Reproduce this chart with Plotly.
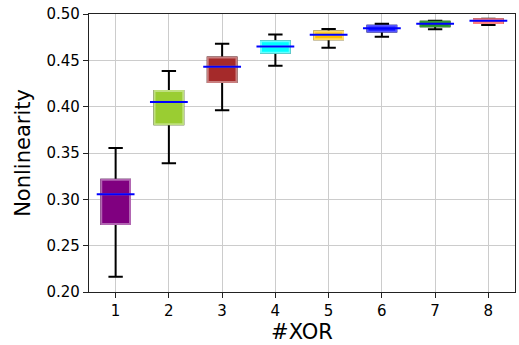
import plotly.graph_objects as go

categories = [1, 2, 3, 4, 5, 6, 7, 8]
upper = [0.3555, 0.4385, 0.4680, 0.4780, 0.4838, 0.4896, 0.4928, 0.4950]
q3 = [0.3210, 0.4170, 0.4530, 0.4705, 0.4810, 0.4874, 0.4917, 0.4943]
median = [0.3054, 0.4050, 0.4432, 0.4650, 0.4777, 0.4845, 0.4896, 0.4928]
q1 = [0.2735, 0.3810, 0.4266, 0.4583, 0.4727, 0.4810, 0.4867, 0.4903]
lower = [0.2165, 0.3390, 0.3960, 0.4442, 0.4636, 0.4755, 0.4835, 0.4881]
colors = ["#800080", "#9ACD32", "#A52A2A", "#00FFFF", "#FFC000", "#0000FF", "#008000", "#FF0000"]
edges = ["#B266B2", "#BFE07F", "#C97F7F", "#66FFFF", "#FFD966", "#5555FF", "#339933", "#FF8080"]

fig = go.Figure()
BW = 0.54
for i, c in enumerate(categories):
    # whiskers + caps (black)
    fig.add_trace(go.Box(
        x=[c], q1=[q1[i]], median=[median[i]], q3=[q3[i]],
        lowerfence=[lower[i]], upperfence=[upper[i]],
        width=BW, whiskerwidth=0.5, fillcolor=colors[i],
        line=dict(color="black", width=2), showlegend=False,
        hoverinfo="skip",
    ))
    # coloured box body
    fig.add_trace(go.Box(
        x=[c], q1=[q1[i]], median=[median[i]], q3=[q3[i]],
        lowerfence=[q1[i]], upperfence=[q3[i]],
        width=BW, whiskerwidth=0, fillcolor=colors[i],
        line=dict(color=edges[i], width=2), showlegend=False,
        hoverinfo="skip",
    ))

fig.add_trace(go.Scatter(
    x=categories, y=median, mode="markers", showlegend=False,
    marker=dict(symbol="line-ew", size=27, line=dict(color="#0000FF", width=2)),
    hoverinfo="skip",
))

axis_common = dict(
    showline=True, linecolor="#222222", linewidth=1.25, mirror=True,
    ticks="outside", ticklen=5, tickwidth=1.25, tickcolor="#222222",
    showgrid=True, gridcolor="#cccccc", gridwidth=1, zeroline=False,
    automargin=False, ticklabeloverflow="allow",
    tickfont=dict(family="DejaVu Sans", size=15, color="black"),
)

fig.update_layout(
    width=519, height=345,
    margin=dict(l=89, r=4, t=14, b=53),
    paper_bgcolor="white", plot_bgcolor="white",
    boxmode="overlay",
    xaxis=dict(range=[0.5, 8.5], tickmode="array", tickvals=categories,
               ticktext=[str(c) for c in categories],
               title=dict(text="#XOR", font=dict(family="DejaVu Sans", size=21, color="black"), standoff=2),
               **axis_common),
    yaxis=dict(range=[0.20, 0.50], tickmode="array",
               tickvals=[0.20, 0.25, 0.30, 0.35, 0.40, 0.45, 0.50],
               tickformat=".2f",
               title=dict(text="Nonlinearity", font=dict(family="DejaVu Sans", size=21, color="black"), standoff=10),
               **axis_common),
)

# remove the page's default body margin so the figure fills the window exactly
fig.write_html("out.html", config={"displayModeBar": False},
               post_script="document.body.style.margin='0';document.body.style.overflow='hidden';")
